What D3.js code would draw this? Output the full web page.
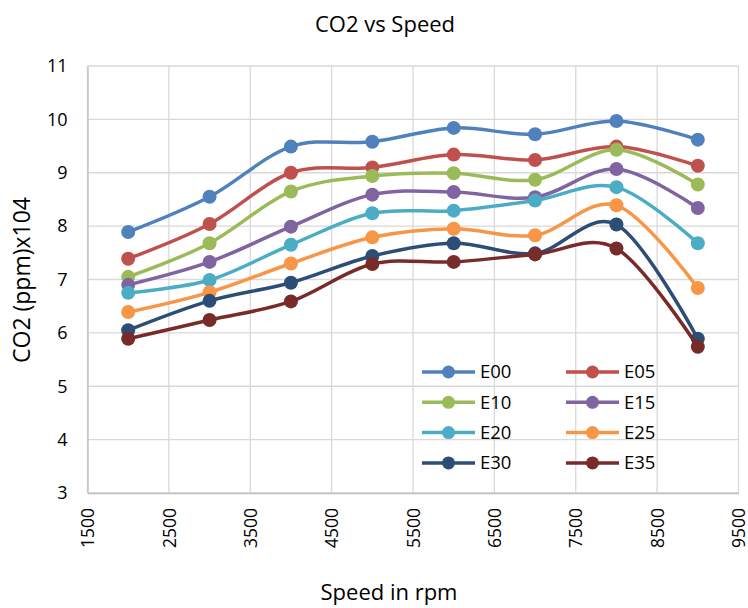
<!DOCTYPE html>
<html>
<head>
<meta charset="utf-8">
<script src="https://cdn.jsdelivr.net/npm/d3@7"></script>
<style>
  body { margin: 0; background: #fff; }
  text { font-family: "Open Sans", "Noto Sans", sans-serif; fill: #000; }
</style>
</head>
<body>
<svg id="chart"></svg>
<script>
// speeds (rpm) where measurements were taken
const speeds = [2000, 3000, 4000, 5000, 6000, 7000, 8000, 9000];

const seriesNames = ["E00", "E05", "E10", "E15", "E20", "E25", "E30", "E35"];
const seriesColors = ["#4F81BD", "#C0504D", "#9BBB59", "#8064A2", "#4BACC6", "#F79646", "#2C4D75", "#772C2A"];

const e00 = [7.89, 8.55, 9.49, 9.58, 9.84, 9.72, 9.97, 9.62];
const e05 = [7.39, 8.04, 9.00, 9.10, 9.34, 9.24, 9.49, 9.13];
const e10 = [7.05, 7.68, 8.65, 8.94, 8.99, 8.87, 9.43, 8.78];
const e15 = [6.90, 7.33, 7.99, 8.59, 8.64, 8.54, 9.07, 8.34];
const e20 = [6.75, 6.99, 7.65, 8.24, 8.29, 8.48, 8.73, 7.68];
const e25 = [6.39, 6.76, 7.30, 7.79, 7.95, 7.83, 8.39, 6.84];
const e30 = [6.05, 6.60, 6.94, 7.44, 7.68, 7.49, 8.03, 5.89];
const e35 = [5.89, 6.24, 6.59, 7.29, 7.33, 7.47, 7.58, 5.74];

const xTicks = [1500, 2500, 3500, 4500, 5500, 6500, 7500, 8500, 9500];
const yTicks = [3, 4, 5, 6, 7, 8, 9, 10, 11];

const allValues = [e00, e05, e10, e15, e20, e25, e30, e35];

const width = 748, height = 608;
const plot = { left: 87.5, right: 738.5, top: 66, bottom: 493 };

const svg = d3.select("#chart")
    .attr("width", width)
    .attr("height", height);

let x = d3.scaleLinear().domain([1500, 9500]).range([plot.left, plot.right]);
let y = d3.scaleLinear().domain([3, 11]).range([plot.bottom, plot.top]);

// gridlines
svg.append("g")
    .selectAll("line.v")
    .data(xTicks)
    .enter().append("line")
    .attr("x1", d => x(d)).attr("x2", d => x(d))
    .attr("y1", plot.top).attr("y2", plot.bottom)
    .attr("stroke", "#d9d9d9").attr("stroke-width", 1.3);

svg.append("g")
    .selectAll("line.h")
    .data(yTicks)
    .enter().append("line")
    .attr("x1", plot.left).attr("x2", plot.right)
    .attr("y1", d => y(d)).attr("y2", d => y(d))
    .attr("stroke", "#d9d9d9").attr("stroke-width", 1.3);

// axes
let xAxis = svg.append("g")
    .attr("transform", "translate(0," + plot.bottom + ")")
    .call(d3.axisBottom(x).tickValues(xTicks).tickFormat(d3.format("d")).tickSize(0).tickPadding(0));
xAxis.select(".domain").attr("stroke", "#bfbfbf").attr("stroke-width", 1.3);
xAxis.selectAll("text")
    .attr("font-size", 17.5)
    .attr("transform", "rotate(-90)")
    .attr("text-anchor", "end")
    .attr("dy", "0.35em")
    .attr("x", -15)
    .attr("y", 0);

let yAxis = svg.append("g")
    .attr("transform", "translate(" + plot.left + ",0)")
    .call(d3.axisLeft(y).tickValues(yTicks).tickSize(0).tickPadding(20));
yAxis.select(".domain").attr("stroke", "#bfbfbf").attr("stroke-width", 1.3);
yAxis.selectAll("text").attr("font-size", 18);

// titles
svg.append("text")
    .attr("x", 385).attr("y", 32)
    .attr("text-anchor", "middle")
    .attr("font-size", 22)
    .text("CO2 vs Speed");

svg.append("text")
    .attr("transform", "translate(30,280) rotate(-90)")
    .attr("text-anchor", "middle")
    .attr("font-size", 23)
    .text("CO2 (ppm)x104");

svg.append("text")
    .attr("x", 389).attr("y", 600)
    .attr("text-anchor", "middle")
    .attr("font-size", 22)
    .text("Speed in rpm");

// series
let line = d3.line()
    .x((d, i) => x(speeds[i]))
    .y(d => y(d))
    .curve(d3.curveCardinal.tension(0));

let series = svg.append("g")
    .selectAll("g")
    .data(allValues)
    .enter().append("g");

series.append("path")
    .attr("d", d => line(d))
    .attr("fill", "none")
    .attr("stroke", (d, i) => seriesColors[i])
    .attr("stroke-width", 3.5);

series.each(function(vals, si) {
    d3.select(this).selectAll("circle")
        .data(vals)
        .enter().append("circle")
        .attr("cx", (d, i) => x(speeds[i]))
        .attr("cy", d => y(d))
        .attr("r", 7)
        .attr("fill", seriesColors[si]);
});

// legend, two columns
let legend = svg.append("g")
    .selectAll("g")
    .data(seriesNames)
    .enter().append("g")
    .attr("transform", (d, i) => "translate(" + (i % 2 === 0 ? 422 : 566) + "," + (372 + Math.floor(i / 2) * 30.3) + ")");

legend.append("line")
    .attr("x1", 0).attr("x2", 53)
    .attr("stroke", (d, i) => seriesColors[i])
    .attr("stroke-width", 3.5);
legend.append("circle")
    .attr("cx", 26.5).attr("r", 6.5)
    .attr("fill", (d, i) => seriesColors[i]);
legend.append("text")
    .attr("x", 58).attr("dy", "0.35em")
    .attr("font-size", 18.5)
    .text(d => d);
</script>
</body>
</html>
